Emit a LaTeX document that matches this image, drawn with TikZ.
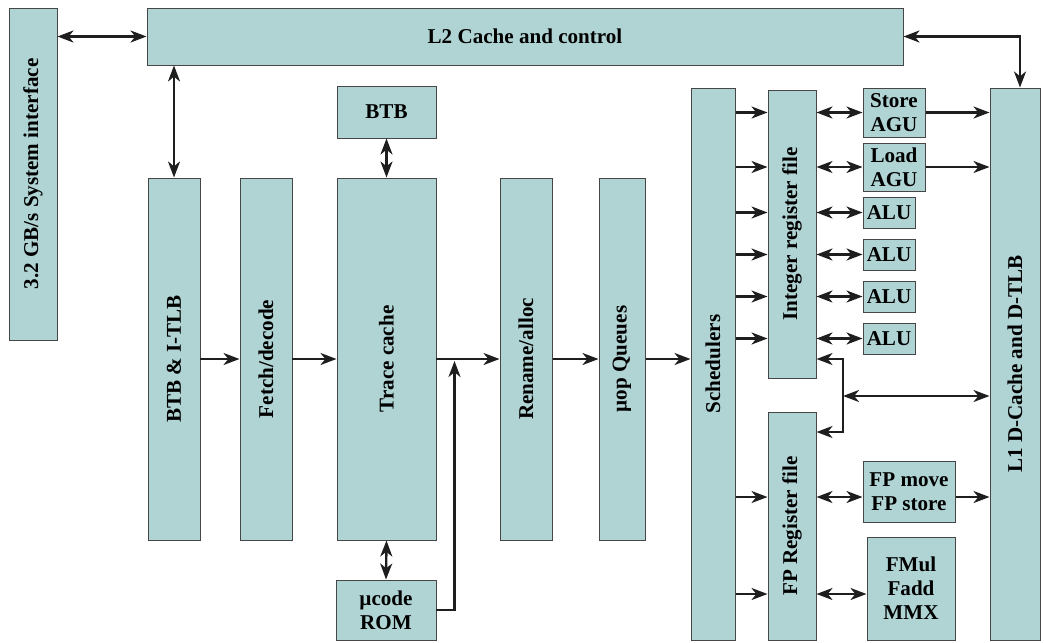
\documentclass[tikz,border=0pt]{standalone}
\usepackage{fontspec}
\setmainfont{Liberation Serif}
\usepackage{graphicx}
\usetikzlibrary{positioning, arrows.meta, calc}

\definecolor{boxfill}{RGB}{176,212,212}
\definecolor{boxline}{RGB}{70,70,70}
\definecolor{arrline}{RGB}{30,30,30}

\begin{document}
\begin{tikzpicture}[
  every node/.style={font=\bfseries\fontsize{15}{17}\selectfont},
  >=Stealth,
  %% block styles
  blk/.style={draw=boxline, line width=0.7pt, fill=boxfill,
    inner sep=0pt, align=center},
  arr/.style={-{Stealth[length=4mm, width=3mm, inset=1.2mm]}, line width=1.7pt, draw=arrline},
  darr/.style={{Stealth[length=4mm, width=3mm, inset=1.2mm]}-{Stealth[length=4mm, width=3mm, inset=1.2mm]},
    line width=1.7pt, draw=arrline},
]
\useasboundingbox (0,0) rectangle (26.1,-16.05);

%% =========================================================
%% TOP — system interface and L2
%% =========================================================
\node[blk, minimum width=1.2cm, minimum height=8.3cm] (sysif) at (0.825,-4.35)
  {\rotatebox{90}{3.2 GB/s System interface}};
\node[blk, minimum width=18.9cm, minimum height=1.425cm] (l2) at (13.125,-0.9125)
  {L2 Cache and control};
\draw[darr] (sysif.east |- l2.west) -- (l2.west);

%% =========================================================
%% FRONT END — in-order pipeline
%% =========================================================
\node[blk, minimum width=1.3cm, minimum height=9.05cm] (btbitlb) at (4.35,-8.975)
  {\rotatebox{90}{BTB \& I-TLB}};
\node[blk, minimum width=1.3cm, minimum height=9.05cm] (fetch) at (6.65,-8.975)
  {\rotatebox{90}{Fetch/decode}};
\node[blk, minimum width=2.475cm, minimum height=9.05cm] (trace) at (9.6625,-8.975)
  {\rotatebox{90}{Trace cache}};
\node[blk, minimum width=2.475cm, minimum height=1.3cm] (btb) at (9.6625,-2.8)
  {BTB};
\node[blk, minimum width=2.5cm, minimum height=1.5cm] (ucode) at (9.65,-15.25)
  {µcode\\ROM};
\node[blk, minimum width=1.3cm, minimum height=9.05cm] (rename) at (13.15,-8.975)
  {\rotatebox{90}{Rename/alloc}};
\node[blk, minimum width=1.15cm, minimum height=9.05cm] (uopq) at (15.55,-8.975)
  {\rotatebox{90}{µop Queues}};

\draw[darr] (btbitlb.north) -- (btbitlb.north |- l2.south);
\draw[darr] (btb.south) -- (trace.north);
\draw[darr] (trace.south) -- (ucode.north);

\draw[arr] (btbitlb.east) -- (fetch.west);
\draw[arr] (fetch.west -| fetch.east) -- (trace.west);
\draw[arr] (trace.east) -- (rename.west);
\draw[arr] (rename.east) -- (uopq.west);

\coordinate (romup) at ($(trace.east)+(0.45,-0.05)$);
\draw[arr] (ucode.east) -| (romup);

%% =========================================================
%% BACK END — schedulers, register files, units
%% =========================================================
\node[blk, minimum width=1.1cm, minimum height=13.8cm] (sched) at (17.825,-9.1)
  {\rotatebox{90}{Schedulers}};
\node[blk, minimum width=1.2cm, minimum height=7.2cm] (intreg) at (19.8,-5.85)
  {\rotatebox{90}{Integer register file}};
\node[blk, minimum width=1.2cm, minimum height=5.7cm] (fpreg) at (19.8,-13.15)
  {\rotatebox{90}{FP Register file}};
\node[blk, minimum width=1.25cm, minimum height=13.8cm] (l1) at (25.375,-9.1)
  {\rotatebox{90}{L1 D-Cache and D-TLB}};

\draw[arr] (uopq.east) -- (uopq.east -| sched.west);

%% integer units
\node[blk, minimum width=1.55cm, minimum height=1.225cm] (stagu) at (22.35,-2.8125)
  {Store\\AGU};
\node[blk, minimum width=1.55cm, minimum height=1.2cm] (ldagu) at (22.35,-4.175)
  {Load\\AGU};
\node[blk, minimum width=1.3cm, minimum height=0.775cm] (alu1) at (22.225,-5.3125) {ALU};
\node[blk, minimum width=1.3cm, minimum height=0.775cm] (alu2) at (22.225,-6.3625) {ALU};
\node[blk, minimum width=1.3cm, minimum height=0.775cm] (alu3) at (22.225,-7.4125) {ALU};
\node[blk, minimum width=1.3cm, minimum height=0.775cm] (alu4) at (22.225,-8.4625) {ALU};

\foreach \u in {stagu, ldagu, alu1, alu2, alu3, alu4} {
  \draw[arr] (sched.east |- \u.west) -- (intreg.west |- \u.west);
  \draw[darr] (intreg.east |- \u.west) -- (\u.west);
}
\draw[arr] (stagu.east) -- (stagu.east -| l1.west);
\draw[arr] (ldagu.east) -- (ldagu.east -| l1.west);

%% FP units
\node[blk, minimum width=2.3cm, minimum height=1.525cm] (fpmove) at (22.725,-12.2875)
  {FP move\\FP store};
\node[blk, minimum width=2.2cm, minimum height=2.575cm] (fmul) at (22.775,-14.7125)
  {FMul\\Fadd\\MMX};

\coordinate (fprow1) at (22,-12.425);
\coordinate (fprow2) at (22,-14.85);
\draw[arr] (sched.east |- fprow1) -- (fpreg.west |- fprow1);
\draw[arr] (sched.east |- fprow2) -- (fpreg.west |- fprow2);
\draw[darr] (fpreg.east |- fprow1) -- (fpmove.west |- fprow1);
\draw[darr] (fpreg.east |- fprow2) -- (fmul.west |- fprow2);
\draw[arr] (fpmove.east |- fprow1) -- (l1.west |- fprow1);

%% register files <-> L1
\coordinate (brkT) at (21.075,-8.975);
\coordinate (brkM) at (21.075,-9.9);
\coordinate (brkB) at (21.075,-10.8);
\draw[darr] (intreg.east |- brkT) -- (brkT) -- (brkB) -- (fpreg.east |- brkB);
\draw[darr] (brkM) -- (l1.west |- brkM);

%% L2 <-> L1
\draw[darr] (l2.east) -| ($(l1.north)+(0.125,0)$);

\end{tikzpicture}
\end{document}
